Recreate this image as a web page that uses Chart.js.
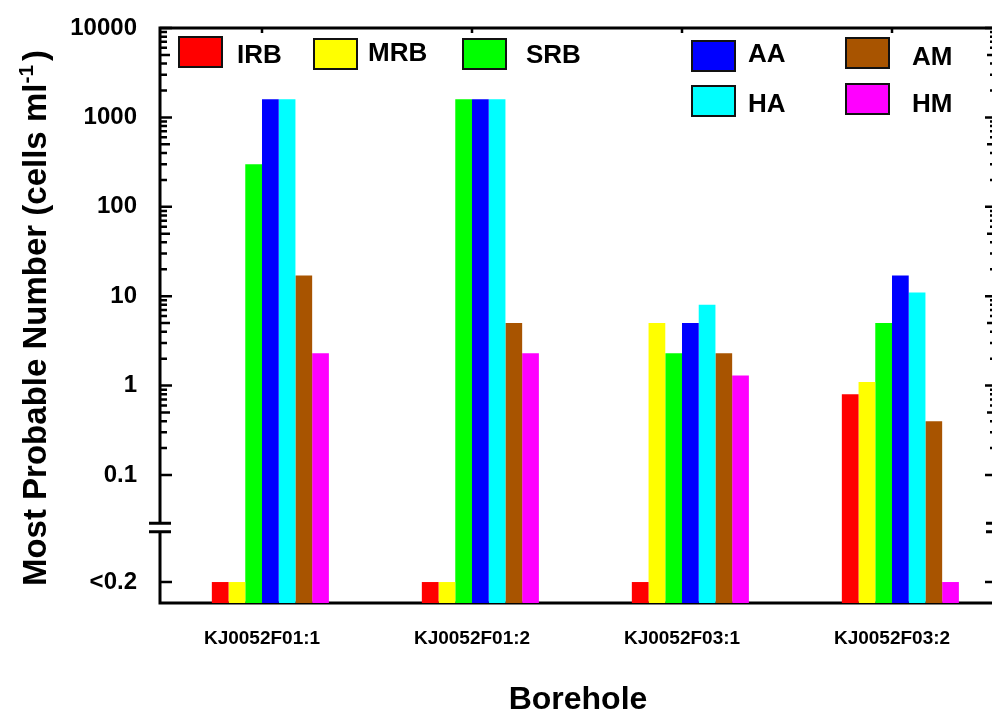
<!DOCTYPE html>
<html>
<head>
<meta charset="utf-8">
<title>Most Probable Number by borehole</title>
<script src="https://cdn.jsdelivr.net/npm/chart.js@4.4.1/dist/chart.umd.min.js"></script>
<style>
  html, body { margin: 0; padding: 0; background: #fff; overflow: hidden; }
  #wrap { width: 992px; height: 713px; overflow: hidden; }
</style>
</head>
<body>
<div id="wrap"><canvas id="mpn-chart" width="1000" height="713"></canvas></div>
<script>
'use strict';

// Boreholes on the x axis.
const BOREHOLES = [ 'KJ0052F01:1', 'KJ0052F01:2', 'KJ0052F03:1', 'KJ0052F03:2' ];

// null = below detection limit, plotted on the "<0.2" row.
const IRB = [ null, null, null, 0.8 ];
const MRB = [ null, null, 5, 1.1 ];
const SRB = [ 300, 1600, 2.3, 5 ];
const AA = [ 1600, 1600, 5, 17 ];
const HA = [ 1600, 1600, 8, 11 ];
const AM = [ 17, 5, 2.3, 0.4 ];
const HM = [ 2.3, 2.3, 1.3, null ];

const SERIES_NAMES = [ 'IRB', 'MRB', 'SRB', 'AA', 'HA', 'AM', 'HM' ];
const SERIES_COLORS = [ '#ff0000', '#ffff00', '#00ff00', '#0000ff', '#00ffff', '#a85400', '#ff00ff' ];

// Y axis: value where the "<0.2" row sits below the axis break.
const BELOW_LIMIT = 0.00635;
const BREAK_AT = 0.0259;
const Y_MIN = 0.0037;
const Y_MAX = 10000;
const Y_TICK_VALUES = [ 10000, 1000, 100, 10, 1, 0.1, BELOW_LIMIT ];
const Y_TICK_LABELS = [ '10000', '1000', '100', '10', '1', '0.1', '<0.2' ];

const X_TITLE = 'Borehole';
const FONT = '"Liberation Sans", Arial, Helvetica, sans-serif';

// Legend slots (box x, box y, text x, text baseline) in series order.
const LEGEND_SLOTS = [
  [ 179, 37, 237, 63 ],
  [ 314, 39, 368, 61 ],
  [ 463, 39, 526, 63 ],
  [ 692, 41, 748, 62 ],
  [ 692, 86, 748, 112 ],
  [ 846, 38, 912, 65 ],
  [ 846, 84, 912, 112 ],
];

function plotValues( arr ) {
  return arr.map( ( v ) => ( v === null ? BELOW_LIMIT : v ) );
}

const seriesData = [ IRB, MRB, SRB, AA, HA, AM, HM ];

// Empty first slot keeps the group offset the same as the original plot.
const datasets = [ {
  label: '',
  data: BOREHOLES.map( () => null ),
  backgroundColor: 'rgba(0,0,0,0)',
} ].concat( seriesData.map( ( arr, i ) => ( {
  label: SERIES_NAMES[ i ],
  data: plotValues( arr ),
  backgroundColor: SERIES_COLORS[ i ],
  borderWidth: 0,
} ) ) );

/**
 * Frame, inward ticks and axis break.
 */
const framePlugin = {
  id: 'frame',
  beforeDatasetsDraw( chart ) {
    const { ctx, chartArea: a, scales } = chart;
    const y = scales.y;
    const x = scales.x;
    const left = a.left + 3;
    const right = a.right;
    const breakY = y.getPixelForValue( BREAK_AT );

    ctx.save();
    ctx.strokeStyle = '#000';
    ctx.lineWidth = 3;
    ctx.beginPath();
    ctx.moveTo( left - 1.5, a.top );
    ctx.lineTo( right + 1.5, a.top );
    ctx.moveTo( left - 1.5, a.bottom );
    ctx.lineTo( right + 1.5, a.bottom );
    [ left, right ].forEach( ( xx ) => {
      ctx.moveTo( xx, a.top );
      ctx.lineTo( xx, breakY - 4 );
      ctx.moveTo( xx, breakY + 4 );
      ctx.lineTo( xx, a.bottom );
    } );
    ctx.stroke();

    // Break marks.
    ctx.beginPath();
    [ left, right ].forEach( ( xx ) => {
      ctx.moveTo( xx - 11, breakY - 4.2 );
      ctx.lineTo( xx + 11, breakY - 4.2 );
      ctx.moveTo( xx - 11, breakY + 4.2 );
      ctx.lineTo( xx + 11, breakY + 4.2 );
    } );
    ctx.stroke();

    // Y ticks, pointing inward on both sides.
    ctx.lineWidth = 2.5;
    ctx.beginPath();
    const tick = ( value, len ) => {
      const py = y.getPixelForValue( value );
      ctx.moveTo( left, py );
      ctx.lineTo( left + len, py );
      ctx.moveTo( right, py );
      ctx.lineTo( right - len, py );
    };
    for ( let e = -1; e <= 4; e++ ) {
      tick( Math.pow( 10, e ), 12 );
      if ( e < 4 ) {
        for ( let m = 2; m <= 9; m++ ) {
          tick( m * Math.pow( 10, e ), m === 5 ? 10 : 7 );
        }
      }
    }
    tick( BELOW_LIMIT, 12 );

    // Small ticks on the top edge at each borehole.
    BOREHOLES.forEach( ( b, i ) => {
      const px = x.getPixelForValue( i );
      ctx.moveTo( px, a.top );
      ctx.lineTo( px, a.top + 5 );
    } );
    ctx.stroke();
    ctx.restore();
  },
};

/**
 * Legend in the same free layout as the original figure.
 */
const legendPlugin = {
  id: 'freeLegend',
  afterDatasetsDraw( chart ) {
    const { ctx } = chart;
    ctx.save();
    ctx.font = 'bold 26px ' + FONT;
    ctx.textAlign = 'left';
    ctx.textBaseline = 'alphabetic';
    SERIES_NAMES.forEach( ( name, i ) => {
      const [ bx, by, tx, ty ] = LEGEND_SLOTS[ i ];
      ctx.fillStyle = SERIES_COLORS[ i ];
      ctx.fillRect( bx, by, 43, 30 );
      ctx.strokeStyle = '#111';
      ctx.lineWidth = 2;
      ctx.strokeRect( bx, by, 43, 30 );
      ctx.fillStyle = '#000';
      ctx.fillText( name, tx, ty );
    } );
    ctx.restore();
  },
};

/**
 * Axis titles (y title needs a superscript).
 */
const titlesPlugin = {
  id: 'axisTitles',
  afterDraw( chart ) {
    const { ctx } = chart;
    ctx.save();
    ctx.fillStyle = '#000';

    ctx.font = 'bold 32px ' + FONT;
    ctx.textAlign = 'center';
    ctx.textBaseline = 'alphabetic';
    ctx.fillText( X_TITLE, 578, 709 );

    const main = 'Most Probable Number (cells ml';
    const sup = '-1';
    const close = ')';
    ctx.font = 'bold 33px ' + FONT;
    const w1 = ctx.measureText( main ).width;
    const w3 = ctx.measureText( close ).width;
    ctx.font = 'bold 21px ' + FONT;
    const w2 = ctx.measureText( sup ).width + 4;
    const total = w1 + w2 + w3;

    ctx.translate( 46, 318 );
    ctx.rotate( -Math.PI / 2 );
    ctx.textAlign = 'left';
    const x0 = -total / 2;
    ctx.font = 'bold 33px ' + FONT;
    ctx.fillText( main, x0, 0 );
    ctx.font = 'bold 21px ' + FONT;
    ctx.fillText( sup, x0 + w1, -13 );
    ctx.font = 'bold 33px ' + FONT;
    ctx.fillText( close, x0 + w1 + w2, 0 );
    ctx.restore();
  },
};

Chart.defaults.font.family = FONT;
Chart.defaults.color = '#000';

new Chart( document.getElementById( 'mpn-chart' ).getContext( '2d' ), {
  type: 'bar',
  data: {
    labels: BOREHOLES,
    datasets: datasets,
  },
  options: {
    responsive: false,
    animation: false,
    layout: {
      padding: { top: 28, right: 3, bottom: 0, left: 0 },
    },
    datasets: {
      bar: {
        categoryPercentage: 0.637,
        barPercentage: 1.0,
      },
    },
    plugins: {
      legend: { display: false },
      tooltip: { enabled: false },
    },
    scales: {
      x: {
        grid: { display: false, drawTicks: false },
        border: { display: false },
        ticks: {
          font: { size: 19, weight: 'bold' },
          padding: 24,
          maxRotation: 0,
          autoSkip: false,
        },
        afterFit( scale ) {
          scale.height = 110;
        },
      },
      y: {
        type: 'logarithmic',
        min: Y_MIN,
        max: Y_MAX,
        grid: { display: false, drawTicks: false },
        border: { display: false },
        ticks: {
          font: { size: 24, weight: 'bold' },
          padding: 20,
          callback( value ) {
            const idx = Y_TICK_VALUES.indexOf( value );
            return idx >= 0 ? Y_TICK_LABELS[ idx ] : '';
          },
        },
        afterBuildTicks( scale ) {
          scale.ticks = Y_TICK_VALUES.map( ( v ) => ( { value: v } ) );
        },
        afterFit( scale ) {
          scale.width = 157;
          scale.paddingTop = 0;
          scale.paddingBottom = 0;
        },
      },
    },
  },
  plugins: [ framePlugin, legendPlugin, titlesPlugin ],
} );
</script>
</body>
</html>
